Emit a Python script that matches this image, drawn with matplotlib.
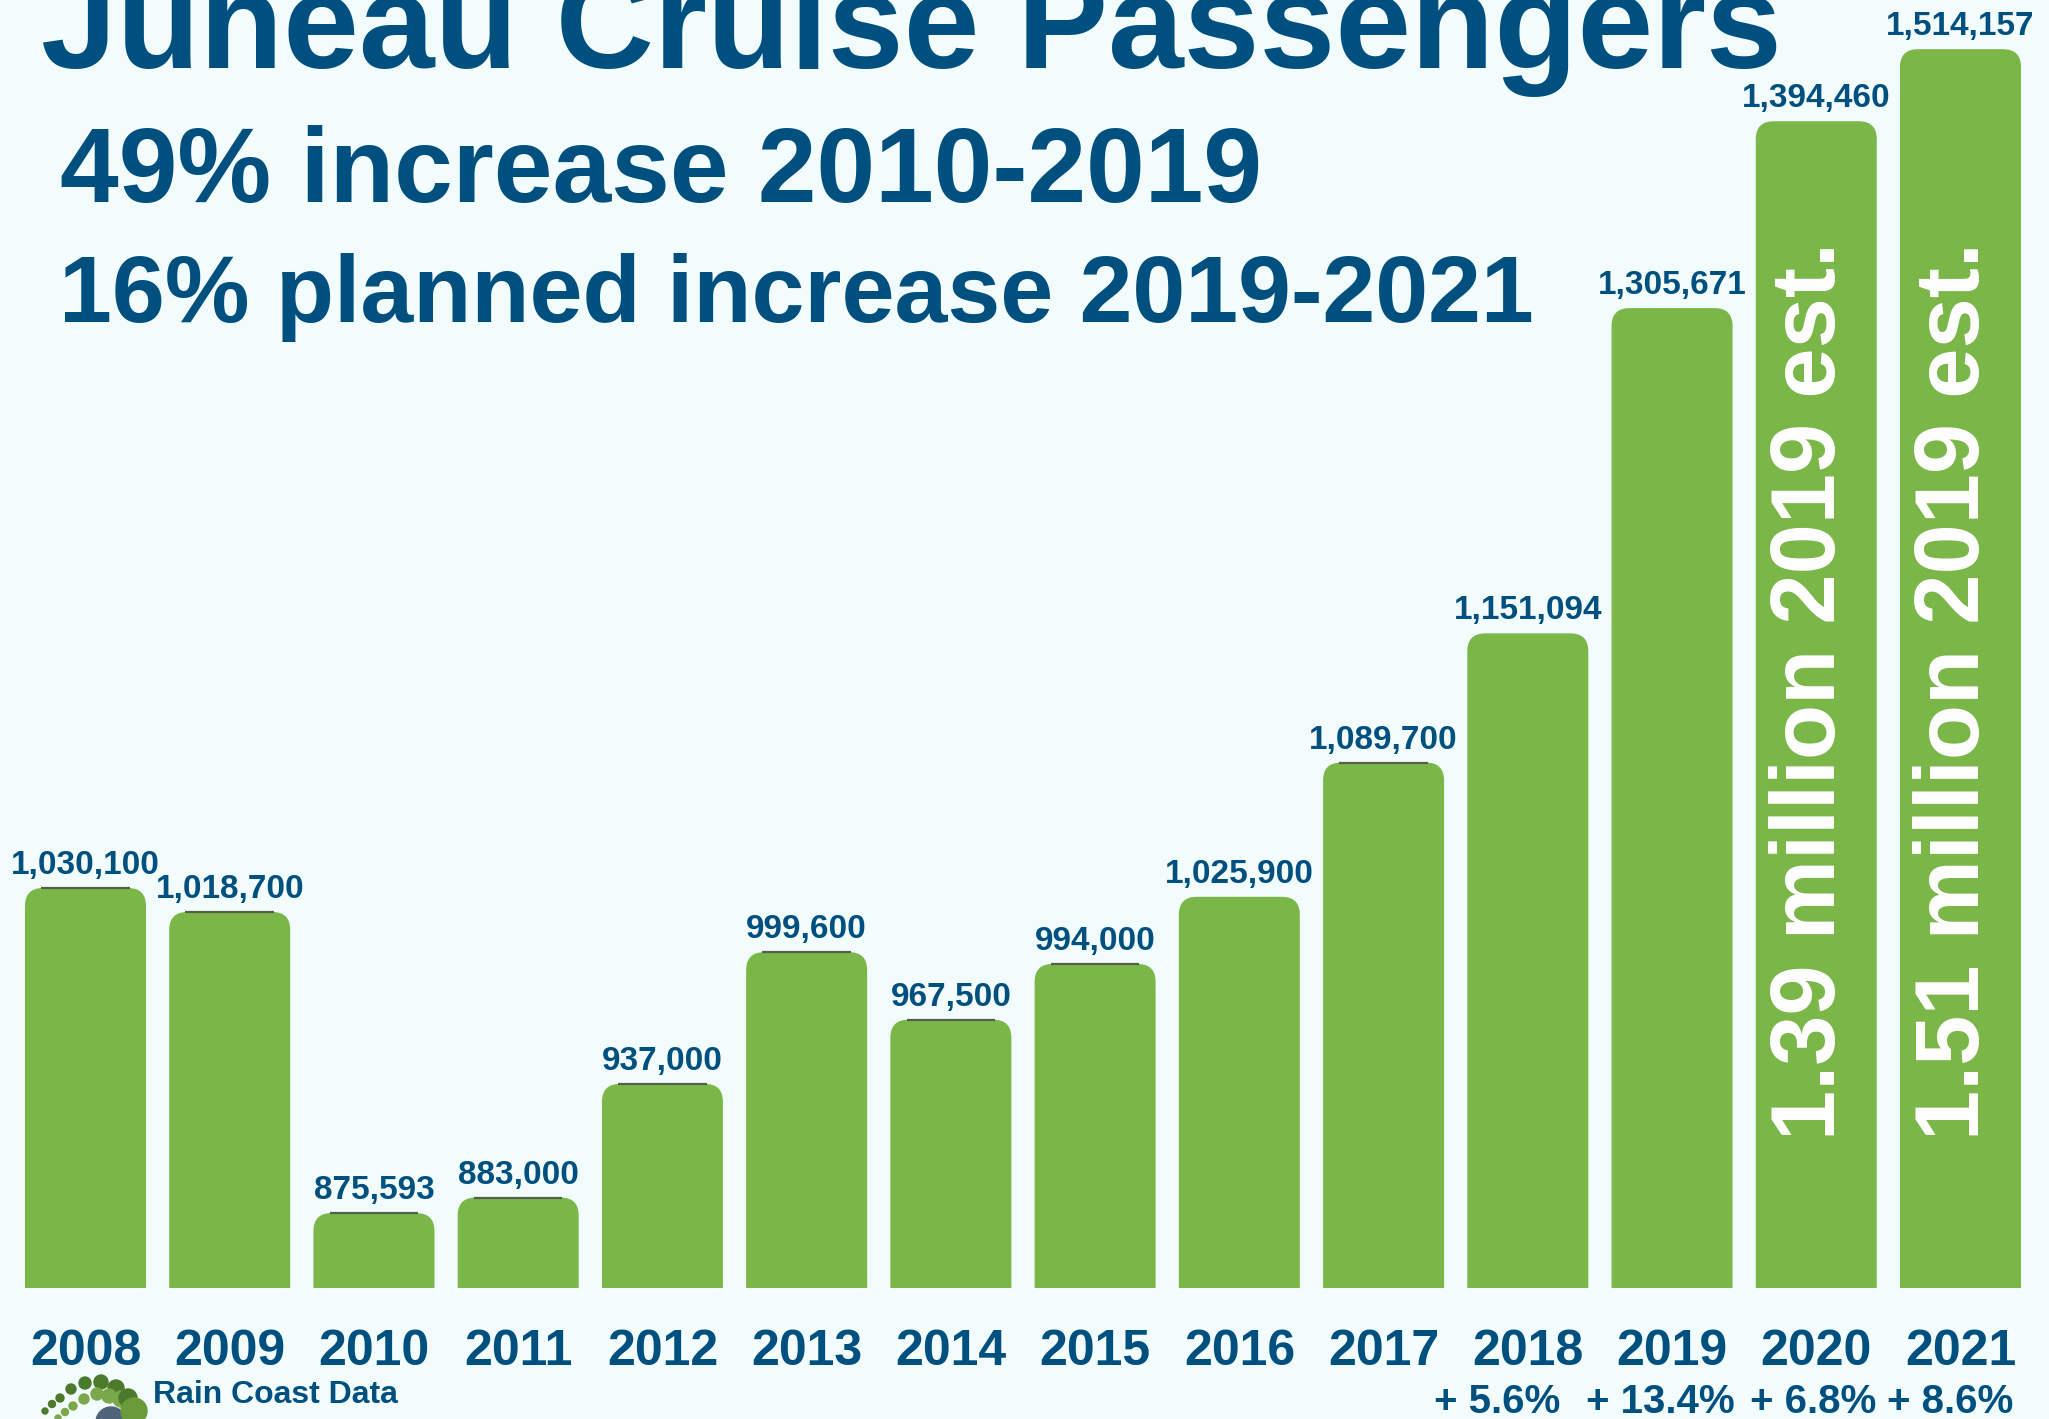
import numpy as np
import matplotlib
matplotlib.use('Agg')
import matplotlib.pyplot as plt
from matplotlib.patches import FancyBboxPatch, Circle

# ---------------- data ----------------
years = ['2008', '2009', '2010', '2011', '2012', '2013', '2014',
         '2015', '2016', '2017', '2018', '2019', '2020', '2021']
passengers = [1030100, 1018700, 875593, 883000, 937000, 999600, 967500,
              994000, 1025900, 1089700, 1151094, 1305671, 1394460, 1514157]
value_labels = ['1,030,100', '1,018,700', '875,593', '883,000', '937,000',
                '999,600', '967,500', '994,000', '1,025,900', '1,089,700',
                '1,151,094', '1,305,671', '1,394,460', '1,514,157']
# in the source picture the 2021 bar is drawn shorter than its value
drawn_heights = passengers[:-1] + [1428700]

growth_years = ['2018', '2019', '2020', '2021']
growth_labels = ['+ 5.6%', '+ 13.4%', '+ 6.8%', '+ 8.6%']

estimate_years = ['2020', '2021']
estimate_labels = ['1.39 million 2019 est.', '1.51 million 2019 est.']

# bars whose top edge shows a thin dark rim in the source picture
rimmed_years = ['2008', '2009', '2010', '2011', '2012', '2013', '2014',
                '2015', '2017']

title = 'Juneau Cruise Passengers'
subtitle1 = '49% increase 2010-2019'
subtitle2 = '16% planned increase 2019-2021'
logo_text = 'Rain Coast Data'

# ---------------- style ----------------
plt.rcParams['font.family'] = ['Liberation Sans', 'DejaVu Sans']
BG = '#f3fcfd'
GREEN = '#7ab648'
BLUE = '#00507f'

W, H = 2049, 1419
fig = plt.figure(figsize=(W / 100, H / 100), dpi=100, facecolor=BG)

def fx(px):
    return px / W

def fy(py):
    return 1 - py / H

# main axes: bottom at pixel row 1288, spanning to the top of the figure
base_px = 1288
ax = fig.add_axes([0, fy(base_px), 1, base_px / H])
ax.set_facecolor(BG)
y0 = 840000
px_per_val = 0.0021043
y1 = y0 + base_px / px_per_val
pitch = 144.23
x0 = -85.5 / pitch
x1 = 13 + (W - 1960.5) / pitch
ax.set_xlim(x0, x1)
ax.set_ylim(y0, y1)
for s in ax.spines.values():
    s.set_visible(False)
ax.set_yticks([])

px_per_x = W / (x1 - x0)
px_per_y = base_px / (y1 - y0)
aspect = px_per_x / px_per_y
bar_w = 121 / pitch
radius = 18 / px_per_x

xs = np.arange(len(years))
bottom = y0 - 60000
for i, h in enumerate(drawn_heights):
    p = FancyBboxPatch((xs[i] - bar_w / 2, bottom), bar_w, h - bottom,
                       boxstyle=f"round,pad=0,rounding_size={radius}",
                       mutation_aspect=aspect, facecolor=GREEN,
                       edgecolor='none', zorder=2)
    ax.add_patch(p)
    if years[i] in rimmed_years:
        ax.plot([xs[i] - bar_w / 2 + radius * 0.9, xs[i] + bar_w / 2 - radius * 0.9],
                [h, h], color='#55604a', lw=1.6, zorder=2.5,
                solid_capstyle='butt')
    ax.annotate(value_labels[i], (xs[i], h), xytext=(0, 10),
                textcoords='offset points', ha='center', va='baseline',
                fontsize=24, fontweight='bold', color=BLUE, zorder=3,
                annotation_clip=False)

ax.set_xticks(xs, years)
ax.tick_params(axis='x', length=0, pad=(1365 - base_px) * 0.72,
               labelsize=36, labelcolor=BLUE)
for lbl in ax.get_xticklabels():
    lbl.set_fontweight('bold')
    lbl.set_va('baseline')

growth_dx_px = [-31, -12, -3, -10]
for yr, lab, dx in zip(growth_years, growth_labels, growth_dx_px):
    i = years.index(yr)
    ax.annotate(lab, (xs[i], 0), xycoords=('data', 'axes fraction'),
                xytext=(dx * 0.72, -(1413 - base_px) * 0.72),
                textcoords='offset points', ha='center', va='baseline',
                fontsize=29, fontweight='bold', color=BLUE,
                annotation_clip=False)

for yr, lab in zip(estimate_years, estimate_labels):
    i = years.index(yr)
    ax.annotate(lab, (xs[i] + 0.13, 0), xycoords=('data', 'axes fraction'),
                xytext=(0, (base_px - 1140) * 0.72), textcoords='offset points',
                rotation=90, rotation_mode='anchor', ha='left', va='baseline',
                fontsize=65, fontweight='bold', color='white', zorder=4)

# ---------------- titles ----------------
fig.text(fx(41), fy(68), title, fontsize=98, fontweight='bold', color=BLUE,
         ha='left', va='baseline')
fig.text(fx(60), fy(202), subtitle1, fontsize=76, fontweight='bold',
         color=BLUE, ha='left', va='baseline')
fig.text(fx(59), fy(322), subtitle2, fontsize=68.5, fontweight='bold',
         color=BLUE, ha='left', va='baseline')

# ---------------- logo ----------------
lax = fig.add_axes([0, 0, 1, 1], zorder=-1)
lax.set_xlim(0, W)
lax.set_ylim(H, 0)
lax.axis('off')
logo_outer = [(45, 1411, 3), (52, 1404, 3.5), (60, 1398, 4), (71, 1389, 5),
              (85, 1383, 6), (101, 1382, 7), (116, 1388, 8)]
logo_inner = [(58, 1418, 3), (65, 1412, 3.5), (73, 1406, 4), (84, 1399, 5),
              (97, 1394, 6), (109, 1396, 7), (121, 1399, 8)]
lax.add_patch(Circle((111, 1422), 15, color='#4e6378'))
for (cx, cy, r) in logo_outer:
    lax.add_patch(Circle((cx, cy), r, color='#4a7a2a'))
for (cx, cy, r) in logo_inner:
    lax.add_patch(Circle((cx, cy), r, color='#79a84a'))
lax.add_patch(Circle((128, 1398), 9, color='#4a7a2a'))
lax.add_patch(Circle((134, 1411), 13, color='#6a9b3a'))
fig.text(fx(153), fy(1403), logo_text, fontsize=23, fontweight='bold',
         color=BLUE, ha='left', va='baseline')

fig.savefig('out.png', dpi=100, facecolor=BG)
